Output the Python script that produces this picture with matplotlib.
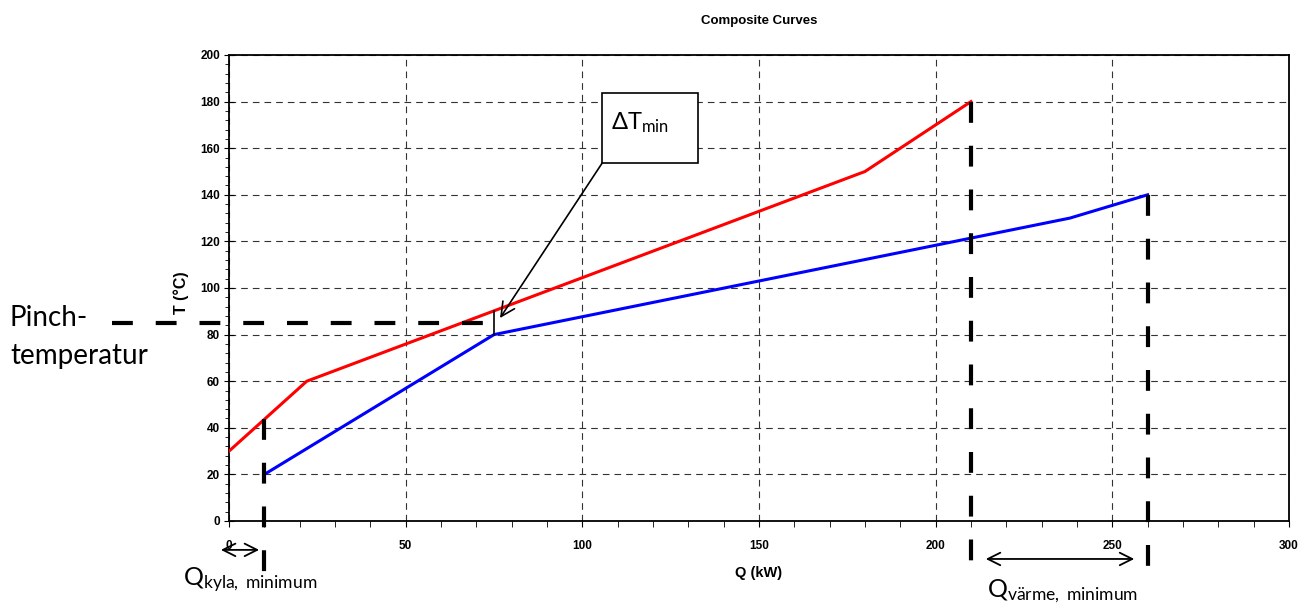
import matplotlib
matplotlib.use("Agg")
import matplotlib.pyplot as plt
from matplotlib.ticker import MultipleLocator
from matplotlib.patches import Rectangle

# heta och kalla kompositkurvor (Q i kW, T i grader C)
hot_q = [0, 22, 180, 210]
hot_t = [30, 60, 150, 180]
cold_q = [10, 75, 238, 260]
cold_t = [20, 80, 130, 140]

pinch_t = 85
q_kyla = 10
q_varme_start = 210
q_varme_end = 260

plt.rcParams["mathtext.fontset"] = "custom"
plt.rcParams["mathtext.rm"] = "Lato"
plt.rcParams["mathtext.it"] = "Lato:italic"

fig = plt.figure(figsize=(13, 6.03), dpi=100, facecolor="white")
ax = fig.add_axes([0.1762, 0.136, 0.8153, 0.7728])

ax.plot(hot_q, hot_t, color="red", lw=2.2, zorder=3)
ax.plot(cold_q, cold_t, color="blue", lw=2.2, zorder=3)

ax.set_xlim(0, 300)
ax.set_ylim(0, 200)
ax.xaxis.set_major_locator(MultipleLocator(50))
ax.xaxis.set_minor_locator(MultipleLocator(10))
ax.yaxis.set_major_locator(MultipleLocator(20))
ax.yaxis.set_minor_locator(MultipleLocator(4))
ax.grid(True, which="major", color="#333333", lw=0.8, ls=(0, (6, 4.5)))
ax.tick_params(axis="x", which="both", direction="out", length=4, pad=10,
               labelsize=8.5)
ax.tick_params(axis="y", which="major", direction="inout", length=7, pad=3,
               labelsize=8.5)
ax.tick_params(axis="y", which="minor", direction="out", length=3)
for lab in ax.get_xticklabels() + ax.get_yticklabels():
    lab.set_fontweight("bold")
    lab.set_family("Liberation Sans")
for s in ax.spines.values():
    s.set_linewidth(1.3)

ax.set_title("Composite Curves", fontsize=9.5, fontweight="bold",
             family="Liberation Sans", pad=22)
ax.set_xlabel("Q (kW)", fontsize=10.5, fontweight="bold", family="Liberation Sans")
ax.set_ylabel("T (°C)", fontsize=11.5, fontweight="bold", family="Liberation Sans")
ax.xaxis.set_label_coords(0.5, -0.097)
ax.yaxis.set_label_coords(-0.038, 0.49)

thick = dict(color="black", lw=3.0, ls=(0, (5, 5.5)), clip_on=False, zorder=4)

# pinch-temperatur
ax.plot([-33, cold_q[1]], [pinch_t, pinch_t], **thick)
ax.plot([cold_q[1], cold_q[1]], [cold_t[1], 90], color="black", lw=1.2, zorder=4)

# minsta kyl- och värmebehov
ax.plot([q_kyla, q_kyla], [43.6, -29.6], **thick)
ax.plot([q_varme_start, q_varme_start], [hot_t[-1], -24.5], **thick)
ax.plot([q_varme_end, q_varme_end], [cold_t[-1], -21.9], **thick)

arr = dict(arrowstyle="<->,head_length=0.9,head_width=0.45", color="black", lw=1.3)
ax.annotate("", xy=(q_kyla - 0.7, -12.4), xytext=(-3.1, -12.4),
            arrowprops=arr, annotation_clip=False)
ax.annotate("", xy=(257, -16.3), xytext=(213.4, -16.3),
            arrowprops=arr, annotation_clip=False)

# delta T min ruta
ax.add_patch(Rectangle((105.6, 153.6), 27.1, 30.1, fill=True, facecolor="white",
                       edgecolor="black", lw=1.2, zorder=5))
ax.text(108.0, 171.0, r"ΔT$_{\mathrm{min}}$", fontsize=17, family="Lato",
        va="center", ha="left", zorder=6)
ax.annotate("", xy=(76.7, 87.1), xytext=(105.6, 153.6),
            arrowprops=dict(arrowstyle="->,head_length=1.0,head_width=0.5",
                            color="black", lw=1.2, shrinkA=0, shrinkB=0),
            zorder=6)

fig.text(10 / 1300, 1 - 337 / 603, "Pinch-\ntemperatur", fontsize=20,
         family="Lato", va="center", ha="left", linespacing=1.55)
fig.text(183 / 1300, 1 - 580 / 603, r"Q$_{\mathrm{kyla,\ minimum}}$",
         fontsize=18, family="Lato", va="center", ha="left")
fig.text(987 / 1300, 1 - 591 / 603, r"Q$_{\mathrm{värme,\ minimum}}$",
         fontsize=18, family="Lato", va="center", ha="left")

fig.savefig("out.png", dpi=100, facecolor="white")
